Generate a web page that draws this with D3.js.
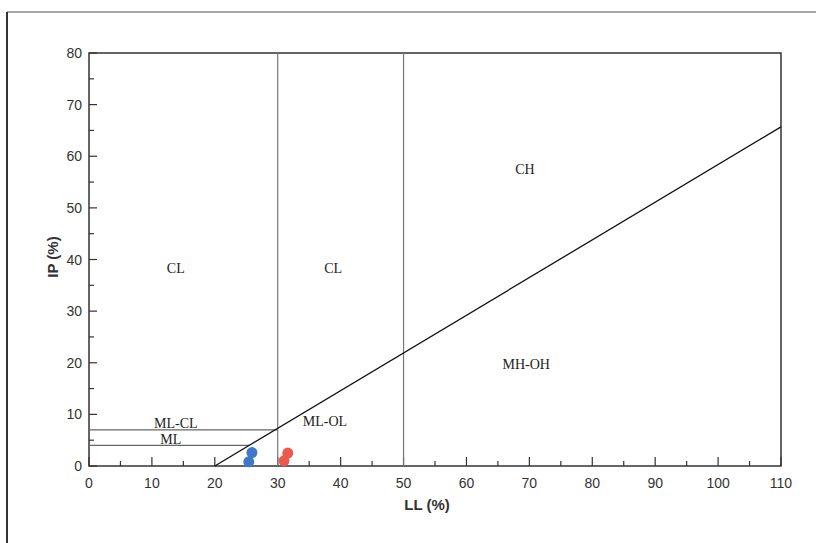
<!DOCTYPE html>
<html>
<head>
<meta charset="utf-8">
<script src="https://cdn.jsdelivr.net/npm/d3@7"></script>
<style>
  body { margin: 0; background: #fff; }
  svg { display: block; }
</style>
</head>
<body>
<div class="chart"></div>
<script>
// data
var xTicks = [0, 10, 20, 30, 40, 50, 60, 70, 80, 90, 100, 110];
var yTicks = [0, 10, 20, 30, 40, 50, 60, 70, 80];
var blueLL = [25.9, 25.4];
var blueIP = [2.6, 0.8];
var redLL = [31.6, 31.0];
var redIP = [2.5, 1.0];
var zoneNames = ["CL", "CL", "CH", "MH-OH", "ML-OL", "ML-CL", "ML"];
var zoneLL = [13.8, 38.8, 69.3, 69.5, 37.5, 13.8, 13.0];
var zoneIP = [38.4, 38.4, 57.5, 19.8, 8.7, 8.3, 5.2];
var aLine = [[20, 0], [110, 65.7]];

var w = 816, h = 543;
var svg = d3.select('.chart').append('svg')
	.attr('width', w)
	.attr('height', h);

// scan frame
svg.append('line').attr('x1', 7).attr('y1', 12).attr('x2', w).attr('y2', 12)
	.style('stroke', '#a9a4a8').style('stroke-width', 2);
svg.append('line').attr('x1', 7).attr('y1', 12).attr('x2', 7).attr('y2', h)
	.style('stroke', '#333').style('stroke-width', 2);

var x = d3.scaleLinear().domain([0, 110]).range([89, 781]);
var y = d3.scaleLinear().domain([0, 80]).range([466, 53]);

var g = svg.append('g');

// plot box
g.append('rect')
	.attr('x', x(0)).attr('y', y(80))
	.attr('width', x(110) - x(0)).attr('height', y(0) - y(80))
	.style('fill', 'none').style('stroke', '#333').style('stroke-width', 1.5);

// minor/major ticks pointing inside
var xt = d3.range(0, 111, 5);
g.selectAll('.xtick').data(xt).enter().append('line')
	.attr('x1', function(d){ return x(d); })
	.attr('x2', function(d){ return x(d); })
	.attr('y1', y(0))
	.attr('y2', function(d){ return y(0) - (d % 10 == 0 ? 9 : 5); })
	.style('stroke', '#333').style('stroke-width', 1.2);

var yt = d3.range(0, 81, 5);
g.selectAll('.ytick').data(yt).enter().append('line')
	.attr('y1', function(d){ return y(d); })
	.attr('y2', function(d){ return y(d); })
	.attr('x1', x(0))
	.attr('x2', function(d){ return x(0) + (d % 10 == 0 ? 8 : 5); })
	.style('stroke', '#333').style('stroke-width', 1.2);

g.selectAll('.xlab').data(xTicks).enter().append('text')
	.attr('x', function(d){ return x(d); })
	.attr('y', y(0) + 22)
	.attr('text-anchor', 'middle')
	.style('font', '14px "Liberation Sans", Arial, sans-serif')
	.style('fill', '#333')
	.text(function(d){ return d; });

g.selectAll('.ylab').data(yTicks).enter().append('text')
	.attr('x', x(0) - 7)
	.attr('y', function(d){ return y(d) + 5; })
	.attr('text-anchor', 'end')
	.style('font', '14px "Liberation Sans", Arial, sans-serif')
	.style('fill', '#333')
	.text(function(d){ return d; });

// boundary lines
g.selectAll('.vline').data([30, 50]).enter().append('line')
	.attr('x1', function(d){ return x(d); })
	.attr('x2', function(d){ return x(d); })
	.attr('y1', y(0)).attr('y2', y(80))
	.style('stroke', '#777').style('stroke-width', 1.2);

g.selectAll('.hline').data([7, 4]).enter().append('line')
	.attr('x1', x(0))
	.attr('x2', function(d){ return d == 7 ? x(30) : x(d / 0.73 + 20); })
	.attr('y1', function(d){ return y(d); })
	.attr('y2', function(d){ return y(d); })
	.style('stroke', '#666').style('stroke-width', 1.1);

g.append('path')
	.attr('d', d3.line().x(function(d){ return x(d[0]); }).y(function(d){ return y(d[1]); })(aLine))
	.style('stroke', '#111').style('stroke-width', 1.3).style('fill', 'none');

// zone labels
g.selectAll('.zone').data(zoneNames).enter().append('text')
	.attr('x', function(d, i){ return x(zoneLL[i]); })
	.attr('y', function(d, i){ return y(zoneIP[i]) + 5; })
	.attr('text-anchor', 'middle')
	.style('font', '14px "Liberation Serif", "Times New Roman", serif')
	.style('fill', '#222')
	.text(function(d){ return d; });

// sample points
var blue = blueLL.map(function(d, i){ return [d, blueIP[i]]; });
var red = redLL.map(function(d, i){ return [d, redIP[i]]; });

g.selectAll('.red').data(red).enter().append('circle')
	.attr('cx', function(d){ return x(d[0]); })
	.attr('cy', function(d){ return y(d[1]); })
	.attr('r', 5.5)
	.style('fill', '#ec5a4c');

g.selectAll('.blue').data(blue).enter().append('circle')
	.attr('cx', function(d){ return x(d[0]); })
	.attr('cy', function(d){ return y(d[1]); })
	.attr('r', 5.5)
	.style('fill', '#3f78c8');

// axis titles
svg.append('text')
	.attr('x', 427).attr('y', 510)
	.attr('text-anchor', 'middle')
	.style('font', 'bold 15px "Liberation Sans", Arial, sans-serif')
	.style('fill', '#333')
	.text('LL (%)');

svg.append('text')
	.attr('transform', 'translate(58,257) rotate(-90)')
	.attr('text-anchor', 'middle')
	.style('font', 'bold 15px "Liberation Sans", Arial, sans-serif')
	.style('fill', '#333')
	.text('IP (%)');
</script>
</body>
</html>
